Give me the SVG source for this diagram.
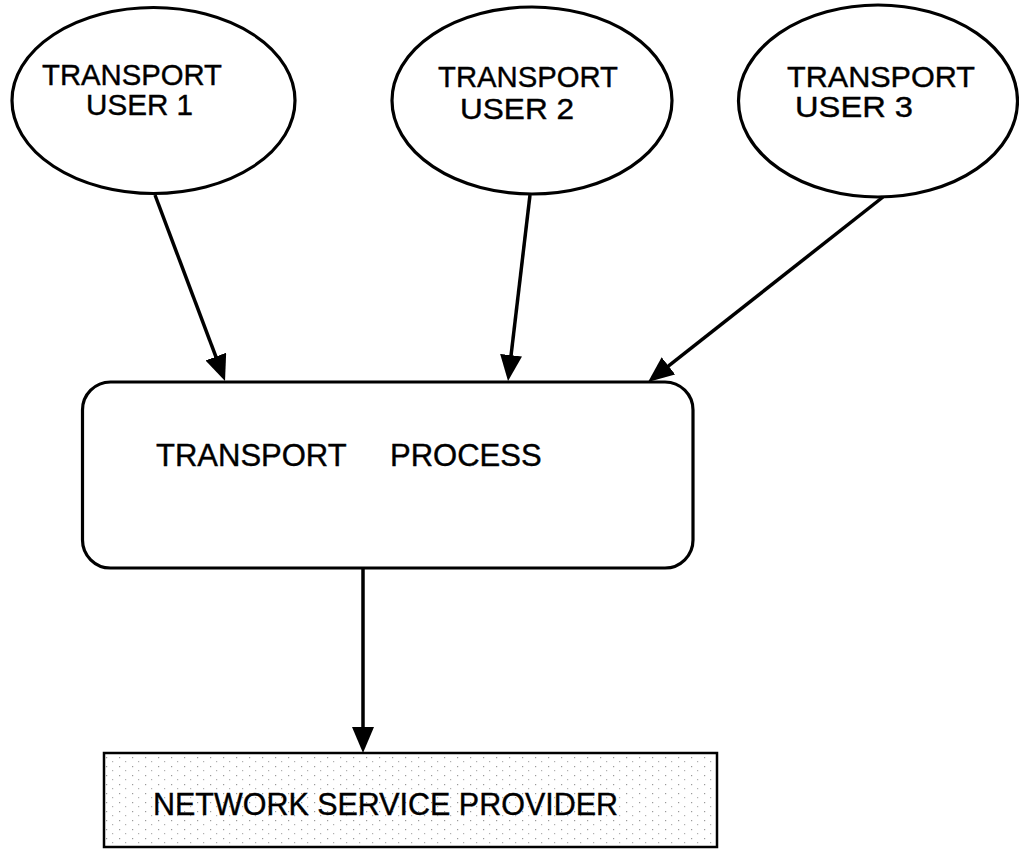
<svg xmlns="http://www.w3.org/2000/svg" width="1019" height="850" viewBox="0 0 1019 850">
  <style>
    .shape { fill: none; stroke: #000; stroke-width: 3.2; }
    .label { font-family: "Liberation Sans", Arial, Helvetica, sans-serif; font-size: 30px; fill: #000; stroke: #000; stroke-width: 0.4; }
    .link { stroke: #000; stroke-width: 3.5; fill: none; marker-end: url(#head); }
  </style>
  <defs>
    <marker id="head" markerUnits="userSpaceOnUse" markerWidth="26" markerHeight="22" refX="16" refY="11" orient="auto">
      <path d="M0,0 L26,11 L0,22 Z" fill="#000"/>
    </marker>
    <!-- sparse grey stipple for the provider box -->
    <pattern id="stipple" width="13" height="9" patternUnits="userSpaceOnUse">
      <rect width="13" height="9" fill="#fff"/>
      <rect x="2" y="1" width="1.2" height="1.2" fill="#9a9a9a"/>
      <rect x="8" y="5" width="1.2" height="1.2" fill="#b0b0b0"/>
    </pattern>
  </defs>

  <rect width="1019" height="850" fill="#fff"/>

  <g id="user1">
    <ellipse class="shape" cx="153.5" cy="100.5" rx="141.5" ry="93"/>
    <text class="label" x="42" y="85" textLength="180" lengthAdjust="spacingAndGlyphs">TRANSPORT</text>
    <text class="label" x="86" y="115" textLength="107" lengthAdjust="spacingAndGlyphs">USER 1</text>
  </g>

  <g id="user2">
    <ellipse class="shape" cx="532" cy="100.5" rx="140" ry="93.5"/>
    <text class="label" x="438" y="87" textLength="180" lengthAdjust="spacingAndGlyphs">TRANSPORT</text>
    <text class="label" x="460" y="119" textLength="114" lengthAdjust="spacingAndGlyphs">USER 2</text>
  </g>

  <g id="user3">
    <ellipse class="shape" cx="878" cy="101" rx="139.5" ry="96"/>
    <text class="label" x="787" y="87" textLength="188" lengthAdjust="spacingAndGlyphs">TRANSPORT</text>
    <text class="label" x="795" y="117" textLength="118" lengthAdjust="spacingAndGlyphs">USER 3</text>
  </g>

  <g id="process">
    <rect class="shape" x="82.5" y="382" width="610.5" height="186" rx="28" ry="28"/>
    <text class="label" style="font-size:31px" x="156" y="466">TRANSPORT <tspan x="390">PROCESS</tspan></text>
  </g>

  <g id="provider">
    <rect x="104" y="753" width="613" height="94" fill="url(#stipple)" stroke="#000" stroke-width="2.5"/>
    <text class="label" style="font-size:32px" x="153" y="815" textLength="465" lengthAdjust="spacingAndGlyphs">NETWORK SERVICE PROVIDER</text>
  </g>

  <g id="connectors">
    <line class="link" x1="155" y1="195" x2="221.5" y2="371.6"/>
    <line class="link" x1="530" y1="195" x2="509.2" y2="371.1"/>
    <line class="link" x1="883" y1="197" x2="655.9" y2="375.8"/>
    <line class="link" x1="363" y1="568" x2="363" y2="743"/>
  </g>
</svg>
